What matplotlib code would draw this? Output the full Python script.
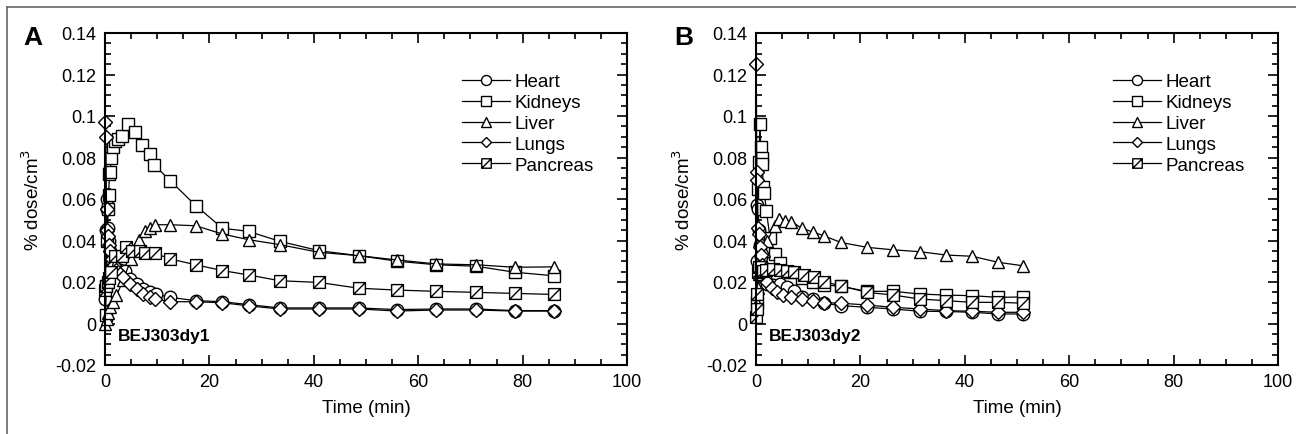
import numpy as np
import matplotlib
matplotlib.use("Agg")
import matplotlib.pyplot as plt
from matplotlib.path import Path
from matplotlib.lines import Line2D
from matplotlib.ticker import MultipleLocator, FixedLocator, FixedFormatter

plt.rcParams['font.family'] = ['Liberation Sans', 'DejaVu Sans']

# ---------------- data (panel A: BEJ303dy1) ----------------
heart_a_t = [0.05, 0.15, 0.3, 0.45, 0.6, 0.8, 1.0, 1.3, 1.7, 2.2, 2.9, 3.8, 4.8, 6.1, 7.3, 8.6, 9.7,
             12.5, 17.4, 22.5, 27.5, 33.5, 41, 48.6, 56, 63.5, 71.1, 78.5, 86]
heart_a_v = [0.012, 0.045, 0.06, 0.055, 0.046, 0.04, 0.035, 0.03, 0.027, 0.026, 0.026, 0.0255, 0.0214,
             0.019, 0.0166, 0.015, 0.0142, 0.0126, 0.011, 0.0105, 0.0091, 0.0075, 0.0075, 0.0075,
             0.0067, 0.007, 0.007, 0.0062, 0.0062]

kidneys_a_t = [0.1, 0.25, 0.4, 0.55, 0.7, 0.85, 1.0, 1.2, 1.5, 2.0, 2.5, 3.2, 4.5, 5.7, 7.0, 8.6, 9.4,
               12.5, 17.4, 22.5, 27.5, 33.5, 41, 48.6, 56, 63.5, 71.1, 78.5, 86]
kidneys_a_v = [0.004, 0.018, 0.04, 0.055, 0.062, 0.072, 0.073, 0.08, 0.085, 0.088, 0.089, 0.0905,
               0.096, 0.0924, 0.086, 0.0817, 0.0765, 0.0688, 0.0568, 0.0459, 0.0444, 0.0396,
               0.0351, 0.0327, 0.030, 0.0283, 0.0276, 0.0247, 0.023]

liver_a_t = [0.05, 0.3, 0.6, 1.0, 1.6, 2.2, 3.5, 5.0, 6.6, 7.7, 8.6, 9.6, 12.5, 17.4, 22.5, 27.5,
             33.5, 41, 48.6, 56, 63.5, 71.1, 78.5, 86]
liver_a_v = [0.0, 0.002, 0.005, 0.008, 0.0105, 0.0135, 0.021, 0.031, 0.0404, 0.0447, 0.0459, 0.0476,
             0.0476, 0.0471, 0.0431, 0.0404, 0.038, 0.0343, 0.0327, 0.0306, 0.0287, 0.0283,
             0.0271, 0.0273]

lungs_a_t = [0.05, 0.15, 0.3, 0.45, 0.6, 0.8, 1.0, 1.3, 1.7, 2.2, 2.8, 3.5, 4.8, 6.1, 7.3, 8.6, 9.6,
             12.5, 17.4, 22.5, 27.5, 33.5, 41, 48.6, 56, 63.5, 71.1, 78.5, 86]
lungs_a_v = [0.097, 0.09, 0.055, 0.045, 0.042, 0.038, 0.035, 0.031, 0.028, 0.026, 0.024, 0.0224,
             0.019, 0.0166, 0.0142, 0.0126, 0.0118, 0.0105, 0.0105, 0.010, 0.0085, 0.007, 0.007,
             0.007, 0.006, 0.0065, 0.0065, 0.006, 0.006]

pancreas_a_t = [0.05, 0.2, 0.5, 0.8, 1.2, 1.9, 3.2, 4.1, 5.1, 6.7, 7.7, 9.6, 12.5, 17.4, 22.5, 27.5,
                33.5, 41, 48.6, 56, 63.5, 71.1, 78.5, 86]
pancreas_a_v = [0.016, 0.018, 0.02, 0.022, 0.025, 0.0327, 0.0327, 0.0367, 0.035, 0.035, 0.034,
                0.0338, 0.0311, 0.0283, 0.0255, 0.0234, 0.0206, 0.0198, 0.017, 0.0161, 0.0155,
                0.015, 0.0145, 0.014]

# ---------------- data (panel B: BEJ303dy2) ----------------
heart_b_t = [0.1, 0.25, 0.4, 0.6, 0.8, 1.0, 1.3, 1.7, 2.2, 3.2, 4.6, 5.9, 7.2, 8.8, 11, 13, 16.2,
             21.3, 26.3, 31.4, 36.4, 41.4, 46.4, 51.2]
heart_b_v = [0.03, 0.057, 0.055, 0.045, 0.038, 0.032, 0.027, 0.022, 0.019, 0.0185, 0.019, 0.0175,
             0.0155, 0.0128, 0.0118, 0.0098, 0.0086, 0.0078, 0.007, 0.0059, 0.0058, 0.0054,
             0.0046, 0.0046]

kidneys_b_t = [0.1, 0.3, 0.5, 0.77, 0.9, 1.1, 1.2, 1.4, 1.6, 2.0, 2.7, 3.6, 4.6, 6.5, 8.8, 11, 13,
               16.2, 21.3, 26.3, 31.4, 36.4, 41.4, 46.4, 51.2]
kidneys_b_v = [0.01, 0.065, 0.078, 0.096, 0.085, 0.08, 0.077, 0.066, 0.063, 0.054, 0.041, 0.0335,
               0.029, 0.0247, 0.0217, 0.0199, 0.0187, 0.0179, 0.0155, 0.0155, 0.0142, 0.0137,
               0.0134, 0.0126, 0.0128]

liver_b_t = [0.1, 0.3, 0.6, 1.0, 1.5, 2.2, 3.6, 4.5, 5.6, 6.8, 8.8, 11, 13, 16.2, 21.3, 26.3, 31.4,
             36.4, 41.4, 46.4, 51.2]
liver_b_v = [0.01, 0.017, 0.024, 0.03, 0.035, 0.04, 0.0471, 0.0505, 0.0495, 0.049, 0.0459, 0.044,
             0.0423, 0.0391, 0.0367, 0.0355, 0.0346, 0.033, 0.0324, 0.0295, 0.0278]

lungs_b_t = [0.05, 0.15, 0.25, 0.4, 0.55, 0.7, 0.9, 1.2, 1.6, 2.2, 3.0, 4.0, 5.2, 6.8, 8.8, 11, 13,
             16.2, 21.3, 26.3, 31.4, 36.4, 41.4, 46.4, 51.2]
lungs_b_v = [0.125, 0.073, 0.069, 0.046, 0.043, 0.037, 0.033, 0.028, 0.024, 0.02, 0.017, 0.015,
             0.0137, 0.013, 0.0118, 0.0109, 0.010, 0.0098, 0.0089, 0.0078, 0.007, 0.0062, 0.0059,
             0.0054, 0.0054]

pancreas_b_t = [0.05, 0.1, 0.2, 0.3, 0.6, 1.0, 1.4, 2.0, 3.3, 4.6, 5.9, 7.2, 9.1, 11.2, 13, 16.2,
                21.3, 26.3, 31.4, 36.4, 41.4, 46.4, 51.2]
pancreas_b_v = [0.003, 0.007, 0.014, 0.025, 0.027, 0.027, 0.0255, 0.026, 0.0263, 0.026, 0.0255,
                0.0247, 0.0234, 0.0223, 0.0202, 0.0182, 0.015, 0.0137, 0.0118, 0.011, 0.0102,
                0.0102, 0.0098]

organs = ["Heart", "Kidneys", "Liver", "Lungs", "Pancreas"]
y_ticks = [-0.02, 0, 0.02, 0.04, 0.06, 0.08, 0.1, 0.12, 0.14]
y_tick_labels = ["-0.02", "0", "0.02", "0.04", "0.06", "0.08", "0.1", "0.12", "0.14"]
x_ticks = [0, 20, 40, 60, 80, 100]
x_tick_labels = ["0", "20", "40", "60", "80", "100"]

panels = [
    ("A", "BEJ303dy1", [(heart_a_t, heart_a_v), (kidneys_a_t, kidneys_a_v), (liver_a_t, liver_a_v),
                         (lungs_a_t, lungs_a_v), (pancreas_a_t, pancreas_a_v)]),
    ("B", "BEJ303dy2", [(heart_b_t, heart_b_v), (kidneys_b_t, kidneys_b_v), (liver_b_t, liver_b_v),
                         (lungs_b_t, lungs_b_v), (pancreas_b_t, pancreas_b_v)]),
]

# pancreas marker: square with diagonal slash
slash_sq = Path([(-1, -1), (1, -1), (1, 1), (-1, 1), (-1, -1), (-1, -1), (1, 1)],
                [Path.MOVETO, Path.LINETO, Path.LINETO, Path.LINETO, Path.CLOSEPOLY,
                 Path.MOVETO, Path.LINETO])
markers = ['o', 's', '^', 'D', slash_sq]
msizes = [9, 8.5, 8.5, 7, 8.5]

W, H = 1296, 435
fig = plt.figure(figsize=(W / 100, H / 100), dpi=100)

ax_lefts = [105, 756]
ax_w, ax_top, ax_bot = 522, 34, 366

for (letter, tag, series), left in zip(panels, ax_lefts):
    ax = fig.add_axes([left / W, (H - ax_bot) / H, ax_w / W, (ax_bot - ax_top) / H])
    for (t, v), name, mk, ms in zip(series, organs, markers, msizes):
        ax.plot(t, v, color='black', lw=0.9, marker=mk, ms=ms, mfc='white', mec='black',
                mew=1.0, label=name, clip_on=False)
    ax.set_xlim(0, 100)
    ax.set_ylim(-0.02, 0.14)
    ax.xaxis.set_major_locator(FixedLocator(x_ticks))
    ax.xaxis.set_major_formatter(FixedFormatter(x_tick_labels))
    ax.xaxis.set_minor_locator(MultipleLocator(5))
    ax.yaxis.set_major_locator(FixedLocator(y_ticks))
    ax.yaxis.set_major_formatter(FixedFormatter(y_tick_labels))
    ax.yaxis.set_minor_locator(MultipleLocator(0.005))
    ax.tick_params(which='both', direction='in', top=True, right=True, labelsize=13,
                   width=1.2, color='black', pad=6)
    ax.tick_params(which='major', length=7)
    ax.tick_params(which='minor', length=4)
    for s in ax.spines.values():
        s.set_linewidth(1.5)
    ax.set_xlabel("Time (min)", fontsize=13.5, labelpad=6)
    ax.set_ylabel("% dose/cm$^3$", fontsize=13.5, labelpad=9)
    ax.text(2.5, -0.006, tag, fontsize=12.5, fontweight='bold', ha='left', va='center')
    leg = ax.legend(loc='upper left', bbox_to_anchor=(0.665, 0.907), frameon=False, fontsize=13.5,
                    handlelength=2.6, handletextpad=0.2, labelspacing=0.2, markerscale=0.8,
                    borderpad=0.0)
    fig.text((left - 72) / W, 1 - 38 / H, letter, fontsize=19, fontweight='bold',
             ha='center', va='center')

# figure frame lines (top and left)
fig.add_artist(Line2D([7 / W, 1], [1 - 8 / H, 1 - 8 / H], transform=fig.transFigure,
                      color='#666666', lw=1.2))
fig.add_artist(Line2D([7 / W, 7 / W], [0, 1 - 8 / H], transform=fig.transFigure,
                      color='#666666', lw=1.2))

fig.savefig("out.png", dpi=100)
